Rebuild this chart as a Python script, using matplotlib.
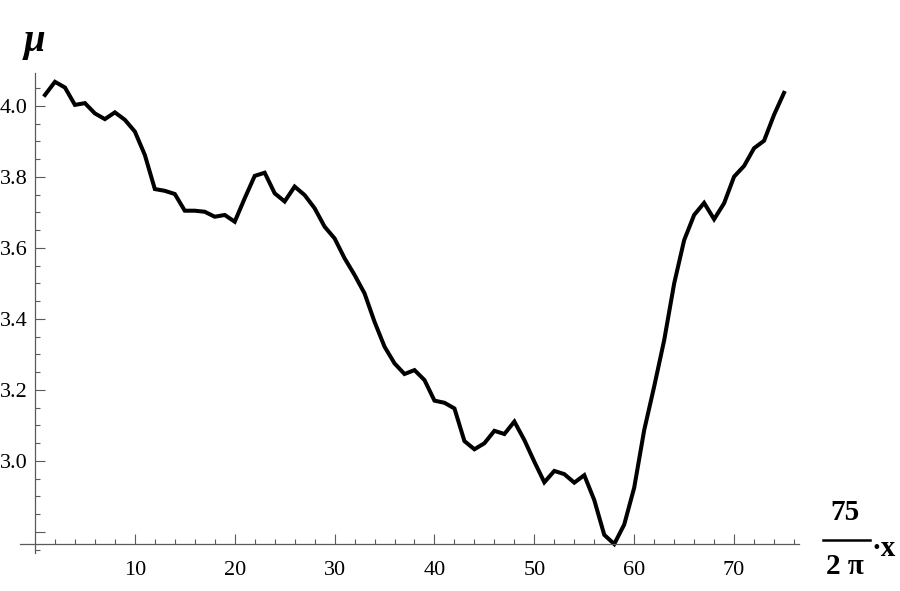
import numpy as np
import matplotlib
matplotlib.use("Agg")
import matplotlib.pyplot as plt
from matplotlib.ticker import FixedLocator, MultipleLocator
from matplotlib.lines import Line2D

# Data
x_vals = list(range(1, 76))
mu_vals = [
    4.031, 4.068, 4.052, 4.003, 4.008, 3.979, 3.963, 3.982, 3.961, 3.928,
    3.862, 3.766, 3.761, 3.752, 3.705, 3.705, 3.702, 3.688, 3.693, 3.674,
    3.740, 3.803, 3.812, 3.754, 3.731, 3.773, 3.749, 3.712, 3.660, 3.627,
    3.571, 3.524, 3.472, 3.392, 3.322, 3.275, 3.245, 3.256, 3.228, 3.170,
    3.164, 3.148, 3.056, 3.033, 3.050, 3.085, 3.076, 3.111, 3.059, 2.998,
    2.940, 2.972, 2.963, 2.939, 2.960, 2.890, 2.792, 2.766, 2.821, 2.925,
    3.087, 3.210, 3.340, 3.500, 3.622, 3.693, 3.727, 3.681, 3.726, 3.801,
    3.831, 3.881, 3.902, 3.975, 4.037,
]
x_major = [10, 20, 30, 40, 50, 60, 70]
x_labels = ["10", "20", "30", "40", "50", "60", "70"]
y_major = [2.8, 3.0, 3.2, 3.4, 3.6, 3.8, 4.0]
y_labels = ["", "3.0", "3.2", "3.4", "3.6", "3.8", "4.0"]

serif = ["Liberation Serif", "DejaVu Serif"]
axis_col = "#5a5a5a"

fig = plt.figure(figsize=(9, 5.91), dpi=100)
ax = fig.add_axes([20 / 900, 1 - 553.3 / 591, 779 / 900, (553.3 - 72.6) / 591])

ax.plot(x_vals, mu_vals, color="black", lw=2.9, solid_joinstyle="miter")

ax.set_xlim(-1.5, 76.5)
ax.set_ylim(2.74, 4.094)

# axes cross at x=0 and at the data minimum, like Mathematica
for s in ["top", "right"]:
    ax.spines[s].set_visible(False)
ax.spines["left"].set_position(("data", 0))
ax.spines["bottom"].set_position(("data", min(mu_vals)))
for s in ["left", "bottom"]:
    ax.spines[s].set_color(axis_col)
    ax.spines[s].set_linewidth(0.9)

ax.xaxis.set_major_locator(FixedLocator(x_major))
ax.set_xticklabels(x_labels)
ax.xaxis.set_minor_locator(FixedLocator([v for v in range(2, 77, 2) if v % 10 != 0]))
ax.yaxis.set_major_locator(FixedLocator(y_major))
ax.set_yticklabels(y_labels)
ax.yaxis.set_minor_locator(FixedLocator([round(2.75 + 0.05 * i, 2) for i in range(27)
                                         if round((2.75 + 0.05 * i) * 10, 4) % 2 != 0]))

ax.tick_params(which="both", direction="in", color=axis_col, width=0.8,
               labelsize=16, labelcolor="black")
ax.tick_params(which="major", length=7)
ax.tick_params(which="minor", length=3.6)
ax.tick_params(axis="x", which="major", pad=12)
ax.tick_params(axis="y", which="major", pad=5.5)
for lab in ax.get_xticklabels() + ax.get_yticklabels():
    lab.set_family(serif)

# axis labels
fig.text(34 / 900, 1 - 41 / 591, "\u03bc", family=serif, fontsize=28,
         fontweight="bold", style="italic", ha="center", va="center")
fig.text(845 / 900, 1 - 513 / 591, "75", family=serif, fontsize=21,
         fontweight="bold", ha="center", va="center")
fig.add_artist(Line2D([823 / 900, 870 / 900], [1 - 540 / 591, 1 - 540 / 591],
                      color="black", lw=1.8, transform=fig.transFigure))
fig.text(845 / 900, 1 - 566 / 591, "2 \u03c0", family=serif, fontsize=21,
         fontweight="bold", ha="center", va="center")
fig.text(872 / 900, 1 - 548 / 591, "\u00b7x", family=serif, fontsize=21,
         fontweight="bold", ha="left", va="center")

fig.savefig("out.png", dpi=100)
